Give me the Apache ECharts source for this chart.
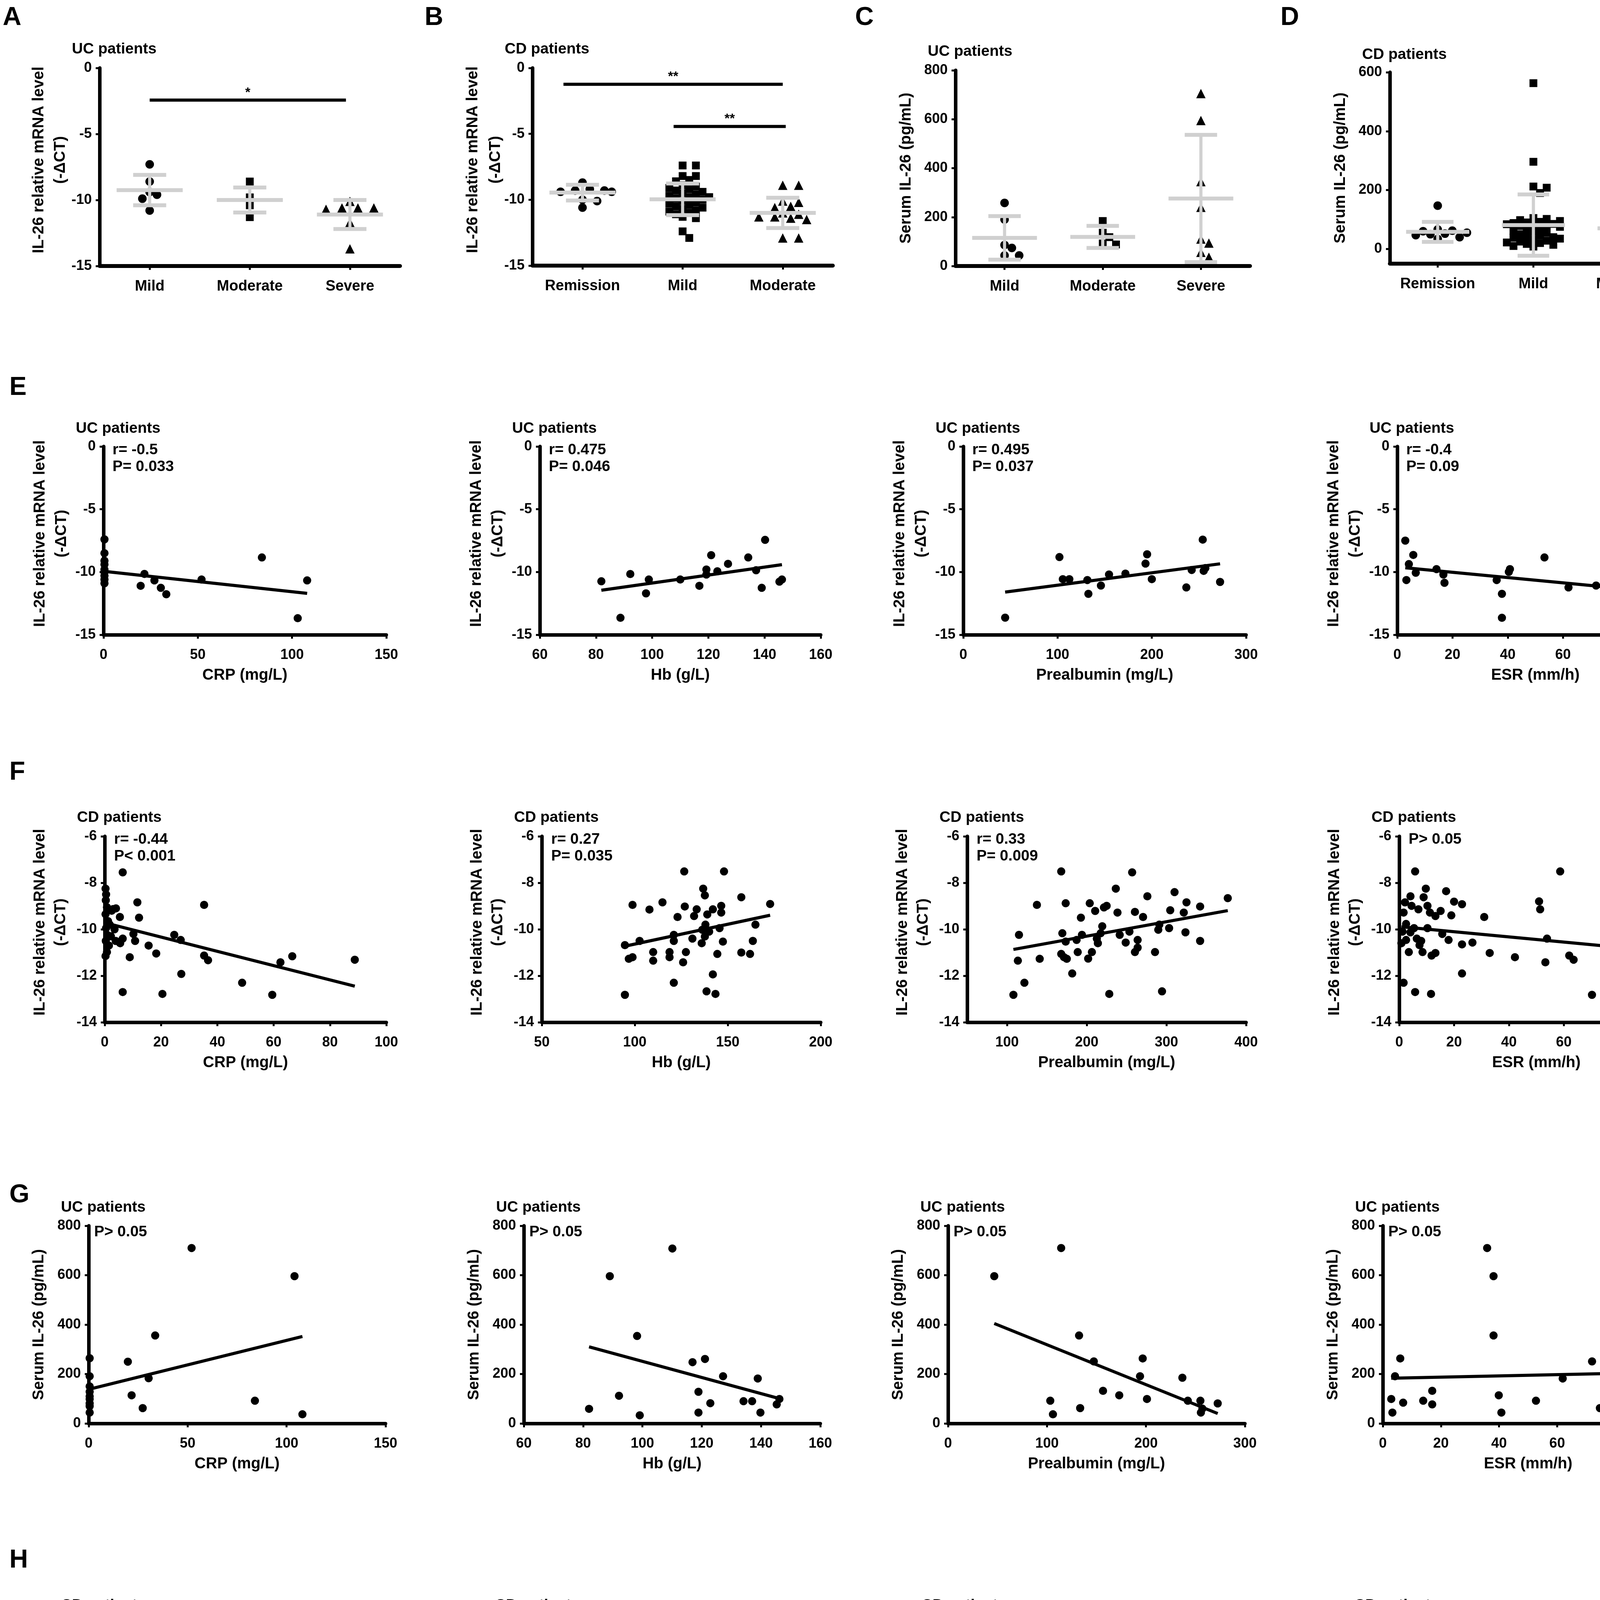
<!DOCTYPE html>
<html>
<head>
<meta charset="utf-8">
<script src="https://cdn.jsdelivr.net/npm/echarts@6.0.0/dist/echarts.min.js"></script>
<style>
  html, body { margin: 0; padding: 0; background: #fff; }
  #chart { width: 4317px; height: 4786px; }
</style>
</head>
<body>
<div id="chart"></div>
<script>
// ---- data ----
const ucGroups = ['Mild', 'Moderate', 'Severe'];
const cdGroups = ['Remission', 'Mild', 'Moderate'];

// A: UC, IL-26 mRNA (-dCT) by severity
const aMild = [-7.3, -8.6, -9.4, -9.6, -9.9, -10.8];
const aModerate = [-8.6, -9.8, -10.4, -11.3];
const aSevere = [-10.1, -10.6, -10.6, -10.7, -10.6, -11.7, -13.7];
const aMean = [-9.25, -10.0, -11.1];
const aSD = [1.15, 0.95, 1.1];
const aSig = [[0, 1.96, -2.43]];
const aSigText = ['*'];

// B: CD, IL-26 mRNA (-dCT) by activity
const bRemission = [-8.7, -9.3, -9.4, -9.4, -9.3, -9.2, -10.0, -10.1, -10.6];
const bMild = [-7.4, -7.4, -8.2, -8.2, -8.5, -8.6, -8.9, -9.0, -9.1, -9.2, -9.3, -9.4, -9.5, -9.6, -9.7, -9.8, -9.8,
  -9.9, -10.0, -10.1, -10.2, -10.3, -10.4, -10.5, -10.6, -10.7, -10.8, -10.9, -11.0, -11.1, -11.3, -11.4, -12.4, -12.9];
const bModerate = [-8.9, -8.9, -10.1, -10.2, -10.5, -10.6, -11.0, -11.1, -11.3, -11.3, -11.4, -11.5, -12.9, -12.9];
const bMean = [-9.46, -9.97, -11.0];
const bSD = [0.6, 1.2, 1.15];
const bSig = [[-0.19, 2.0, -1.24], [0.91, 2.03, -4.44]];
const bSigText = ['**', '**'];

// C: UC, serum IL-26
const cMild = [258, 190, 86, 74, 43, 43];
const cModerate = [184, 136, 118, 92, 88];
const cSevere = [705, 595, 345, 240, 110, 94, 56, 36];
const cMean = [115, 119, 276];
const cSD = [89, 45, 260];

// D: CD, serum IL-26
const dRemission = [147, 66, 62, 60, 52, 50, 47, 40, 34, 55];
const dMild = [563, 296, 212, 208, 190, 105, 102, 98, 95, 92, 90, 88, 85, 84, 82, 80, 78, 75, 70, 66, 62, 58, 55, 50,
  46, 42, 40, 38, 35, 32, 28, 25, 22, 20, 17, 14, 10, 8];
const dModerate = [153, 110, 104, 95, 90, 86, 75, 66, 50, 40, 38, 30, 22, 20];
const dMean = [58, 81, 70];
const dSD = [34, 104, 37];

// E: UC, mRNA vs lab values  [x, y]
const ucCrpCt = [[0.5, -7.4], [0.5, -8.5], [0.5, -9.1], [0.5, -9.4], [0.5, -9.8], [0.5, -10.0], [0.5, -10.3], [0.5, -10.6],
  [0.5, -10.9], [19.7, -11.1], [21.7, -10.15], [27, -10.67], [30.4, -11.26], [33.3, -11.77], [52, -10.6], [84, -8.84],
  [103, -13.68], [108, -10.67]];
const ucHbCt = [[81.9, -10.74], [88.7, -13.65], [92.2, -10.16], [97.8, -11.7], [98.8, -10.6], [110, -10.6], [116.8, -11.1],
  [119.3, -9.8], [119.3, -10.2], [121, -8.66], [123.2, -9.94], [127, -9.35], [134.2, -8.84], [137, -9.86], [139, -11.26],
  [140.2, -7.44], [145.3, -10.77], [146.2, -10.6]];
const ucPreCt = [[44.4, -13.64], [102, -8.81], [105.6, -10.57], [112.5, -10.57], [131.6, -10.64], [132.7, -11.74],
  [146, -11.08], [154.6, -10.2], [172, -10.13], [195, -8.59], [193.3, -9.33], [200, -10.57], [236.6, -11.23],
  [242.3, -9.84], [254, -7.42], [255, -9.91], [256.8, -9.69], [272.4, -10.79]];
const ucEsrCt = [[2.9, -7.5], [3.3, -10.64], [4.2, -9.37], [5.8, -8.64], [6.7, -10.06], [14.2, -9.77], [16.7, -10.2],
  [17.1, -10.86], [36, -10.64], [37.9, -11.74], [37.9, -13.65], [40.4, -9.99], [40.8, -9.77], [53.3, -8.84], [62, -11.23],
  [72, -11.08], [75, -10.64], [77.7, -10.6]];
const fitsE = [[-9.94, -0.0163], [-14.05, 0.0317], [-12.04, 0.00988], [-9.60, -0.021]];
const statsE = [['r= -0.5', 'P= 0.033'], ['r= 0.475', 'P= 0.046'], ['r= 0.495', 'P= 0.037'], ['r= -0.4', 'P= 0.09']];

// F: CD, mRNA vs lab values
const cdCrpCt = [[0.3, -8.25], [0.5, -8.5], [0.4, -8.75], [0.8, -9.05], [0.3, -9.35], [1.2, -9.65], [0.5, -9.95],
  [1.0, -10.25], [0.4, -10.5], [0.8, -10.98], [0.3, -11.15], [2.5, -9.2], [1.8, -9.8], [2.2, -10.3], [1.5, -10.7],
  [6.4, -7.55], [3.0, -9.13], [4.0, -9.1], [5.4, -9.47], [3.5, -10.0], [3.9, -10.5], [6.4, -10.4], [5.5, -10.6],
  [8.9, -11.2], [11.6, -8.84], [12.2, -9.5], [10.2, -10.2], [10.8, -10.5], [15.6, -10.7], [18.3, -11.04], [6.4, -12.7],
  [20.5, -12.78], [24.7, -10.24], [27, -10.46], [27.2, -11.92], [35.3, -8.95], [35.3, -11.13], [36.7, -11.33],
  [48.8, -12.3], [59.5, -12.82], [62.4, -11.42], [66.6, -11.16], [88.8, -11.31]];
const cdHbCt = [[94.7, -12.82], [94.7, -10.68], [96.8, -11.27], [98.8, -8.95], [98.8, -11.2], [102.6, -10.5],
  [107.9, -9.15], [109.9, -10.98], [109.9, -11.35], [114.9, -8.84], [118.7, -10.98], [118.7, -11.2], [121, -12.3],
  [121, -10.24], [123, -9.47], [126.6, -7.51], [126.9, -9.02], [126, -11.42], [127.5, -10.98], [131, -10.4],
  [131.9, -9.43], [133.3, -9.14], [136.3, -10.02], [136.8, -8.25], [137.7, -8.54], [138.6, -12.67], [137.7, -10.31],
  [139, -9.36], [142, -9.14], [142, -11.94], [143.4, -12.78], [144.4, -11.06], [146.5, -9.28], [146.5, -8.99],
  [147.4, -10.53], [145.6, -9.95], [148, -7.51], [157.3, -8.62], [157.3, -11.0], [162, -11.06], [163.5, -10.5],
  [164.9, -9.8], [172.8, -8.91], [138, -9.8], [140, -10.1], [121, -10.5], [136, -10.6]];
const cdPreCt = [[108, -12.82], [113.6, -11.35], [115, -10.24], [121.8, -12.3], [137.5, -8.95], [141, -11.27],
  [168, -7.51], [168, -11.06], [169.4, -10.17], [171.5, -11.2], [173.6, -8.88], [173.6, -10.53], [175, -11.27],
  [181.8, -11.9], [187.3, -10.46], [188.7, -10.98], [192.7, -9.5], [194, -10.24], [201.8, -11.26], [203.8, -8.88],
  [206.5, -10.98], [210.6, -9.21], [212.7, -10.4], [214, -10.6], [217.5, -10.17], [219.5, -9.87], [221.6, -9.06],
  [225, -8.99], [228.3, -12.78], [236.5, -8.25], [238.6, -9.28], [241.4, -10.24], [248.9, -10.57], [253.6, -10.1],
  [257, -7.55], [260.5, -9.25], [260.5, -10.98], [263.9, -10.46], [263.9, -10.79], [270.7, -9.47], [276.1, -8.58],
  [285.7, -10.98], [289.8, -10.02], [291.1, -9.8], [294.5, -12.67], [303.4, -9.95], [304.8, -9.18], [310.2, -8.4],
  [321.8, -9.28], [323.9, -10.13], [325.2, -8.84], [342.3, -10.5], [342.3, -9.02], [377, -8.66]];
const cdEsrCt = [[1.6, -12.3], [1.6, -9.28], [2.1, -8.84], [2.5, -9.77], [2.5, -10.46], [3.5, -10.98], [4.1, -8.58],
  [4.5, -8.99], [4.1, -10.13], [5.4, -9.95], [5.8, -7.51], [5.8, -12.7], [6.4, -10.4], [7, -9.14], [7.4, -10.68],
  [8, -10.5], [8.5, -10.98], [8.9, -8.62], [9.7, -8.25], [10.3, -8.99], [10.3, -9.95], [11.2, -9.28], [11.6, -12.78],
  [11.8, -11.13], [13.2, -11.02], [13.2, -9.43], [15.1, -9.21], [15.7, -10.2], [17.1, -8.36], [18, -10.46], [19, -9.4],
  [20, -8.81], [22.9, -10.65], [22.9, -8.92], [22.9, -11.9], [26.7, -10.57], [31, -9.47], [33, -11.02], [42.2, -11.2],
  [51, -8.8], [51.4, -9.14], [53.3, -11.42], [53.9, -10.4], [62, -11.13], [63.6, -11.31], [58.7, -7.51], [70.3, -12.82],
  [90.3, -11.27], [0.8, -10.6], [1.2, -10.1]];
const fitsF = [[-9.72, -0.0307], [-12.34, 0.01704], [-11.54, 0.00622], [-9.883, -0.0111]];
const statsF = [['r= -0.44', 'P< 0.001'], ['r= 0.27', 'P= 0.035'], ['r= 0.33', 'P= 0.009'], ['P> 0.05']];

// G: UC, serum IL-26 vs lab values
const ucCrpSerum = [[0.5, 264], [0.5, 191], [0.5, 128], [0.5, 99], [0.5, 81], [0.5, 44], [0.5, 150], [0.5, 70], [0.5, 110],
  [19.8, 250], [21.7, 114], [27.3, 62], [30.3, 183], [33.6, 356], [52, 710], [84, 92], [104, 596], [108, 37]];
const ucHbSerum = [[82, 59], [89, 596], [92.1, 112], [98.2, 354], [99.1, 33], [110.1, 708], [116.9, 248], [118.9, 128],
  [118.9, 44], [121.1, 261], [122.9, 82], [127.2, 191], [134.1, 90], [137, 90], [138.9, 182], [139.8, 44], [145.3, 77],
  [146.2, 99]];
const ucPreSerum = [[46.7, 596], [103.3, 92], [106, 37], [114.3, 710], [132.4, 356], [133.5, 62], [147.3, 251],
  [156.6, 132], [173, 114], [194, 191], [196.7, 263], [201, 99], [236.8, 185], [242.3, 92], [255, 92], [255.5, 44],
  [257, 60], [272.5, 81]];
const ucEsrSerum = [[2.9, 99], [3.3, 44], [4.2, 191], [6, 263], [7, 84], [13.9, 92], [17, 132], [17, 77], [35.9, 710],
  [38.1, 596], [38.1, 356], [39.9, 114], [40.8, 44], [52.7, 92], [61.9, 182], [72, 251], [74.7, 62], [77.8, 37]];
const fitsG = [[138, 1.98], [577.3, -3.26], [479.9, -1.614], [182.3, 0.253]];

// H: CD, serum IL-26 vs lab values
const cdCrpSerum = [[11.9, 567], [6.8, 300], [2.75, 212], [0.7, 190], [0.7, 147], [49, 211], [66.4, 150], [24.8, 110],
  [27, 95], [35.6, 101], [59.6, 84], [10.8, 104], [6.8, 90], [4, 84], [9, 88], [10.5, 75], [5.9, 58], [16.3, 58],
  [18.3, 58], [20.6, 32], [27.5, 19], [35.2, 17], [37, 46], [62.2, 46], [88.8, 43], [12.3, 19], [5.9, 29], [3.7, 14],
  [0.5, 110], [0.8, 95], [1.2, 80], [0.4, 70], [1.5, 62], [0.6, 52], [2.2, 45], [0.9, 38], [1.8, 30], [0.5, 22],
  [1.1, 15], [2.5, 8], [0.3, 60], [3, 70], [2, 90], [4.5, 40], [5, 20], [7.5, 8], [8.2, 35], [3.2, 100], [11, 66]];
const cdHbSerum = [[139.1, 572], [138.3, 300], [121.3, 213], [141.3, 211], [127.2, 190], [119.4, 150], [127.3, 147],
  [99.4, 107], [102.9, 107], [96, 89], [110.3, 89], [121.3, 113], [137.2, 104], [144.6, 107], [148.7, 92], [162.4, 84],
  [173.4, 84], [115.3, 72], [121.3, 72], [134.4, 84], [94.4, 61], [97.4, 40], [110.8, 46], [108.9, 14], [122.6, 20],
  [128.1, 20], [126.7, 49], [131.6, 37], [132.7, 61], [134.9, 29], [137.6, 20], [139, 69], [140.4, 49], [143.1, 26],
  [146.4, 29], [156.8, 58], [164.4, 29], [145.4, 61], [136, 40], [130, 12], [141, 10], [124, 35]];
const cdPreSerum = [[114.8, 572], [293.2, 300], [121.2, 212], [255, 212], [285, 190], [168.3, 150], [224.3, 147],
  [107, 89], [113.5, 49], [137.3, 101], [140.5, 46], [168.3, 29], [168.3, 17], [171.5, 107], [174.1, 84], [190.2, 110],
  [184.4, 20], [187.6, 46], [194, 12], [201.7, 46], [203.7, 29], [208.2, 89], [212.7, 61], [217.8, 84], [219.8, 14],
  [227.5, 32], [235.9, 101], [240.4, 61], [250, 17], [255.2, 92], [258.4, 58], [261.6, 26], [264.8, 78], [272.6, 20],
  [288.7, 84], [290.6, 32], [304.8, 32], [310, 58], [322.9, 87], [322.9, 17], [342.2, 61], [377.6, 40], [205, 38],
  [215, 55], [262, 70], [176, 95]];
const cdEsrSerum = [[6.4, 572], [6.4, 300], [2.7, 212], [4.6, 212], [9.1, 190], [10.4, 147], [59.9, 150], [30.7, 110],
  [23.4, 101], [16.4, 104], [33.2, 89], [42.3, 84], [51.1, 75], [53.8, 95], [70.3, 89], [53.3, 46], [63.9, 43],
  [59.3, 26], [51.1, 12], [90.3, 43], [19.7, 78], [18.6, 58], [23.4, 58], [20.1, 23], [23.4, 20], [27, 12], [31, 17],
  [1.8, 89], [2.7, 72], [3.6, 38], [5.1, 26], [5.8, 55], [7.3, 14], [8.2, 107], [9.1, 101], [10, 66], [11, 58],
  [11.9, 32], [12.8, 14], [13.7, 46], [14.6, 32], [15.5, 78], [4, 45], [8, 80]];
const fitsH = [[71.7, 0.375], [108.7, -0.247], [155.3, -0.335], [84.8, -0.43]];

const xNames = ['CRP (mg/L)', 'Hb (g/L)', 'Prealbumin (mg/L)', 'ESR (mm/h)'];
const mrnaTitle = ['IL-26 relative mRNA level', '(-ΔCT)'];
const serumTitle = ['Serum IL-26 (pg/mL)'];

// ---- build ----
const FONT = 'Liberation Sans';
const grids = [], xAxes = [], yAxes = [], series = [], graphics = [];

function txt(size) {
  return { fontFamily: FONT, fontWeight: 'bold', fontSize: size, color: '#000' };
}

function label(x, y, s, o) {
  o = o || {};
  graphics.push({
    type: 'text', x: x, y: y, rotation: o.rot || 0, silent: true,
    style: {
      text: s, fill: '#000', fontFamily: FONT, fontWeight: 'bold',
      fontSize: o.size || 39, align: o.align || 'left', verticalAlign: 'middle'
    }
  });
}

function axis(i, range, ticks, lineW, margin) {
  const a = {
    gridIndex: i, type: 'value', min: range[0], max: range[1], splitLine: { show: false },
    axisLine: { show: true, onZero: false, lineStyle: { color: '#000', width: lineW } },
    axisTick: { show: true, length: 10, lineStyle: { color: '#000', width: 5 } },
    axisLabel: Object.assign({ margin: margin, showMinLabel: true, showMaxLabel: true }, txt(36))
  };
  if (range[2]) a.interval = range[2];
  if (ticks) { a.axisTick.customValues = ticks; a.axisLabel.customValues = ticks; }
  return a;
}

function addGrid(p) {
  const i = grids.length;
  grids.push({ left: p.left, top: p.top, width: p.width, height: p.height });
  const x = axis(i, p.x, p.xTicks, p.xLine || 9, 34);
  if (p.xFormat) { x.axisLabel.formatter = p.xFormat; x.axisLabel.fontSize = 38; }
  if (p.xName) {
    x.name = p.xName; x.nameLocation = 'middle'; x.nameGap = 84; x.nameTextStyle = txt(40);
  }
  xAxes.push(x);
  yAxes.push(axis(i, p.y, p.yTicks, 9, 20));
  label(p.left - 71, p.top + (p.titleDy || -48), p.title, { size: 39 });
  const cy = p.top + p.height / 2 + (p.yTitle.length > 1 ? -18 : 0);
  p.yTitle.forEach((s, k) => label(p.left + p.yOff[k], cy, s, { size: 40, rot: Math.PI / 2, align: 'center' }));
  return i;
}

// spread points of one group sideways so they do not overlap (dot plot style)
function swarm(values, g, pxPerY, bandPx, size) {
  const sorted = values.slice().sort((a, b) => b - a);
  const placed = [], out = [];
  const step = size * 0.85;
  const maxK = Math.max(1, Math.floor(0.34 * bandPx / step));
  sorted.forEach(v => {
    const py = v * pxPerY;
    let best = 0, bestD = -1;
    for (let j = 0; j <= 2 * maxK; j++) {
      const k = j === 0 ? 0 : (j % 2 ? (j + 1) / 2 : -j / 2);
      const px = k * step;
      let dmin = Infinity;
      placed.forEach(q => { dmin = Math.min(dmin, Math.hypot(q[0] - px, q[1] - py)); });
      if (dmin >= size * 0.9) { best = px; bestD = dmin; break; }
      if (dmin > bestD) { bestD = dmin; best = px; }
    }
    placed.push([best, py]);
    out.push([g + best / bandPx, v]);
  });
  return out;
}

const GRAY = '#d0d0d0';
const symbols = ['circle', 'rect', 'triangle'];
const symSizes = [22, 20, 24];

function dotPanel(p) {
  const i = addGrid(Object.assign({
    x: [-0.5, 2.5], xTicks: [0, 1, 2], xLine: 10, xFormat: v => p.cats[Math.round(v)]
  }, p));
  const pxPerY = p.height / (p.y[1] - p.y[0]);
  const bandPx = p.width / 3;
  p.groups.forEach((vals, g) => {
    series.push({
      type: 'scatter', xAxisIndex: i, yAxisIndex: i, silent: true, z: 2,
      symbol: symbols[g], symbolSize: symSizes[g], itemStyle: { color: '#000', opacity: 1 },
      data: swarm(vals, g, pxPerY, bandPx, symSizes[g])
    });
  });
  series.push({
    type: 'custom', xAxisIndex: i, yAxisIndex: i, silent: true, z: 5,
    encode: { x: 0, y: 1 },
    data: p.mean.map((m, g) => [g, m, p.sd[g]]),
    renderItem: (params, api) => {
      const g = api.value(0), m = api.value(1), s = api.value(2);
      const c = api.coord([g, m]), hi = api.coord([g, m + s]), lo = api.coord([g, m - s]);
      const band = api.size([1, 0])[0];
      const st = { stroke: GRAY, lineWidth: 10 };
      return {
        type: 'group', children: [
          { type: 'line', shape: { x1: c[0], y1: hi[1], x2: c[0], y2: lo[1] }, style: { stroke: GRAY, lineWidth: 8 } },
          { type: 'line', shape: { x1: c[0] - band * 0.33, y1: c[1], x2: c[0] + band * 0.33, y2: c[1] }, style: st },
          { type: 'line', shape: { x1: c[0] - band * 0.165, y1: hi[1], x2: c[0] + band * 0.165, y2: hi[1] }, style: st },
          { type: 'line', shape: { x1: c[0] - band * 0.165, y1: lo[1], x2: c[0] + band * 0.165, y2: lo[1] }, style: st }
        ]
      };
    }
  });
  if (p.sig) {
    series.push({
      type: 'custom', xAxisIndex: i, yAxisIndex: i, silent: true, z: 5,
      encode: { x: [0, 1], y: 2 },
      data: p.sig,
      renderItem: (params, api) => {
        const a = api.coord([api.value(0), api.value(2)]);
        const b = api.coord([api.value(1), api.value(2)]);
        return {
          type: 'group', children: [
            { type: 'line', shape: { x1: a[0], y1: a[1], x2: b[0], y2: b[1] }, style: { stroke: '#000', lineWidth: 8 } },
            {
              type: 'text', style: {
                text: p.sigText[params.dataIndex], x: (a[0] + b[0]) / 2, y: a[1] - 2, fill: '#000',
                fontFamily: FONT, fontWeight: 'bold', fontSize: 34, align: 'center', verticalAlign: 'bottom'
              }
            }
          ]
        };
      }
    });
  }
}

function scatterPanel(p) {
  const i = addGrid(p);
  series.push({
    type: 'scatter', xAxisIndex: i, yAxisIndex: i, silent: true, z: 2,
    symbol: 'circle', symbolSize: 21, itemStyle: { color: '#000', opacity: 1 }, data: p.data
  });
  const xs = p.data.map(d => d[0]);
  const x0 = Math.min.apply(null, xs), x1 = Math.max.apply(null, xs);
  const f = p.fit;
  series.push({
    type: 'line', xAxisIndex: i, yAxisIndex: i, silent: true, z: 3, symbol: 'none',
    lineStyle: { color: '#000', width: 8 },
    data: [[x0, f[0] + f[1] * x0], [x1, f[0] + f[1] * x1]]
  });
  p.stats.forEach((s, k) => label(p.left + p.statX, p.top + p.statY[k], s, { size: 39 }));
}

// row 1: dot plots
dotPanel({ left: 255, top: 174, width: 769, height: 507, y: [-15, 0, 5], cats: ucGroups, title: 'UC patients',
  groups: [aMild, aModerate, aSevere], mean: aMean, sd: aSD, sig: aSig, sigText: aSigText,
  yTitle: mrnaTitle, yOff: [-155, -100] });
dotPanel({ left: 1363, top: 174, width: 769, height: 506, y: [-15, 0, 5], cats: cdGroups, title: 'CD patients',
  groups: [bRemission, bMild, bModerate], mean: bMean, sd: bSD, sig: bSig, sigText: bSigText,
  yTitle: mrnaTitle, yOff: [-152, -94] });
dotPanel({ left: 2446, top: 180, width: 754, height: 501, y: [0, 800, 200], cats: ucGroups, title: 'UC patients',
  groups: [cMild, cModerate, cSevere], mean: cMean, sd: cSD, yTitle: serumTitle, yOff: [-126] });
dotPanel({ left: 3558, top: 185, width: 735, height: 490, y: [-50, 600], yTicks: [0, 200, 400, 600],
  cats: cdGroups, title: 'CD patients', titleDy: -45,
  groups: [dRemission, dMild, dModerate], mean: dMean, sd: dSD, yTitle: serumTitle, yOff: [-126] });

// rows E-H: correlations
const rowE = { top: 1143, height: 482, y: [-15, 0, 5], title: 'UC patients', titleDy: -46, yTitle: mrnaTitle,
  yOff: [-162, -107], statX: 23, statY: [9, 52] };
const rowF = { top: 2141, height: 476, y: [-14, -6, 2], title: 'CD patients', titleDy: -48, yTitle: mrnaTitle,
  yOff: [-165, -112], statX: 24, statY: [8, 51] };
const rowG = { top: 3138, height: 506, y: [0, 800, 200], title: 'UC patients', titleDy: -47, yTitle: serumTitle,
  yOff: [-127], statX: 14, statY: [16] };
const rowH = { top: 4163, height: 500, y: [0, 600, 200], title: 'CD patients', titleDy: -53, yTitle: serumTitle,
  yOff: [-127], statX: 14, statY: [-3] };

const eCols = [
  { left: 265, width: 724, x: [0, 150, 50] }, { left: 1382, width: 719, x: [60, 160, 20] },
  { left: 2466, width: 724, x: [0, 300, 100] }, { left: 3577, width: 723, x: [0, 100, 20] }];
const fCols = [
  { left: 268, width: 721, x: [0, 100, 20] }, { left: 1387, width: 714, x: [50, 200, 50] },
  { left: 2476, width: 714, x: [50, 400], xTicks: [100, 200, 300, 400] }, { left: 3582, width: 718, x: [0, 100, 20] }];
const gCols = [
  { left: 227, width: 760, x: [0, 150, 50] }, { left: 1341, width: 759, x: [60, 160, 20] },
  { left: 2427, width: 760, x: [0, 300, 100] }, { left: 3540, width: 760, x: [0, 100, 20] }];
const hCols = [
  { left: 227, width: 760, x: [0, 100, 20] }, { left: 1338, width: 762, x: [50, 200, 50] },
  { left: 2430, width: 757, x: [50, 400], xTicks: [100, 200, 300, 400] }, { left: 3538, width: 762, x: [0, 100, 20] }];

const eData = [ucCrpCt, ucHbCt, ucPreCt, ucEsrCt];
const fData = [cdCrpCt, cdHbCt, cdPreCt, cdEsrCt];
const gData = [ucCrpSerum, ucHbSerum, ucPreSerum, ucEsrSerum];
const hData = [cdCrpSerum, cdHbSerum, cdPreSerum, cdEsrSerum];
const pOnly = [['P> 0.05'], ['P> 0.05'], ['P> 0.05'], ['P> 0.05']];

[[rowE, eCols, eData, fitsE, statsE], [rowF, fCols, fData, fitsF, statsF],
 [rowG, gCols, gData, fitsG, pOnly], [rowH, hCols, hData, fitsH, pOnly]].forEach(r => {
  r[1].forEach((col, k) => {
    scatterPanel(Object.assign({}, r[0], col, {
      data: r[2][k], fit: r[3][k], stats: r[4][k], xName: xNames[k]
    }));
  });
});

// panel letters
[['A', 7, 46], ['B', 1087, 46], ['C', 2189, 46], ['D', 3278, 46],
 ['E', 24, 993], ['F', 24, 1978], ['G', 24, 3060], ['H', 24, 3995]].forEach(l => {
  label(l[1], l[2], l[0], { size: 66 });
});

const chart = echarts.init(document.getElementById('chart'));
chart.setOption({
  animation: false,
  backgroundColor: '#fff',
  grid: grids,
  xAxis: xAxes,
  yAxis: yAxes,
  series: series,
  graphic: { elements: graphics }
});
</script>
</body>
</html>
